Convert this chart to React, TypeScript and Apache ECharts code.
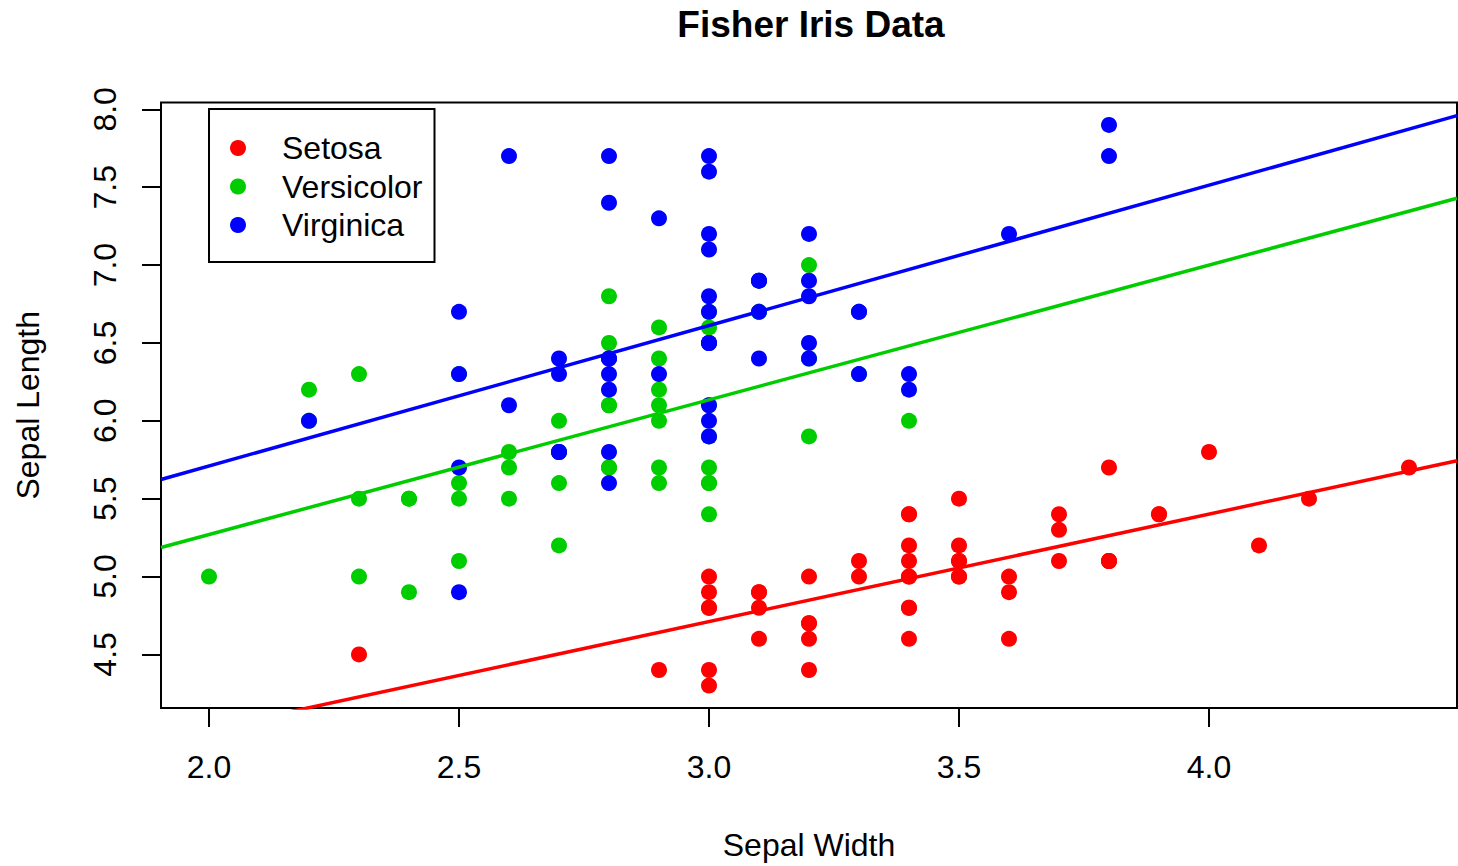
import React, { useEffect, useRef } from "react";
import * as echarts from "echarts";

const speciesNames = ["Setosa", "Versicolor", "Virginica"];
const speciesColors = ["#FF0000", "#00CD00", "#0000FF"];

const setosaWidth = [3.5,3.0,3.2,3.1,3.6,3.9,3.4,3.4,2.9,3.1,3.7,3.4,3.0,3.0,4.0,4.4,3.9,3.5,3.8,3.8,3.4,3.7,3.6,3.3,3.4,3.0,3.4,3.5,3.4,3.2,3.1,3.4,4.1,4.2,3.1,3.2,3.5,3.6,3.0,3.4,3.5,2.3,3.2,3.5,3.8,3.0,3.8,3.2,3.7,3.3];
const setosaLength = [5.1,4.9,4.7,4.6,5.0,5.4,4.6,5.0,4.4,4.9,5.4,4.8,4.8,4.3,5.8,5.7,5.4,5.1,5.7,5.1,5.4,5.1,4.6,5.1,4.8,5.0,5.0,5.2,5.2,4.7,4.8,5.4,5.2,5.5,4.9,5.0,5.5,4.9,4.4,5.1,5.0,4.5,4.4,5.0,5.1,4.8,5.1,4.6,5.3,5.0];
const versicolorWidth = [3.2,3.2,3.1,2.3,2.8,2.8,3.3,2.4,2.9,2.7,2.0,3.0,2.2,2.9,2.9,3.1,3.0,2.7,2.2,2.5,3.2,2.8,2.5,2.8,2.9,3.0,2.8,3.0,2.9,2.6,2.4,2.4,2.7,2.7,3.0,3.4,3.1,2.3,3.0,2.5,2.6,3.0,2.6,2.3,2.7,3.0,2.9,2.9,2.5,2.8];
const versicolorLength = [7.0,6.4,6.9,5.5,6.5,5.7,6.3,4.9,6.6,5.2,5.0,5.9,6.0,6.1,5.6,6.7,5.6,5.8,6.2,5.6,5.9,6.1,6.3,6.1,6.4,6.6,6.8,6.7,6.0,5.7,5.5,5.5,5.8,6.0,5.4,6.0,6.7,6.3,5.6,5.5,5.5,6.1,5.8,5.0,5.6,5.7,5.7,6.2,5.1,5.7];
const virginicaWidth = [3.3,2.7,3.0,2.9,3.0,3.0,2.5,2.9,2.5,3.6,3.2,2.7,3.0,2.5,2.8,3.2,3.0,3.8,2.6,2.2,3.2,2.8,2.8,2.7,3.3,3.2,2.8,3.0,2.8,3.0,2.8,3.8,2.8,2.8,2.6,3.0,3.4,3.1,3.0,3.1,3.1,3.1,2.7,3.2,3.3,3.0,2.5,3.0,3.4,3.0];
const virginicaLength = [6.3,5.8,7.1,6.3,6.5,7.6,4.9,7.3,6.7,7.2,6.5,6.4,6.8,5.7,5.8,6.4,6.5,7.7,7.7,6.0,6.9,5.6,7.7,6.3,6.7,7.2,6.2,6.1,6.4,7.2,7.4,7.9,6.4,6.3,6.1,7.7,6.3,6.4,6.0,6.9,6.7,6.9,5.8,6.8,6.7,6.7,6.3,6.5,6.2,5.9];

const xTicks = [2.0, 2.5, 3.0, 3.5, 4.0];
const yTicks = [4.5, 5.0, 5.5, 6.0, 6.5, 7.0, 7.5, 8.0];

const widths = [setosaWidth, versicolorWidth, virginicaWidth];
const lengths = [setosaLength, versicolorLength, virginicaLength];

const X_MIN = 1.904, X_MAX = 4.496, Y_MIN = 4.156, Y_MAX = 8.044;
const FONT = "'Liberation Sans', Arial, sans-serif";

function fit(xs: number[], ys: number[]) {
  const n = xs.length;
  const mx = xs.reduce((a, b) => a + b, 0) / n;
  const my = ys.reduce((a, b) => a + b, 0) / n;
  let sxy = 0, sxx = 0;
  for (let i = 0; i < n; i++) {
    sxy += (xs[i] - mx) * (ys[i] - my);
    sxx += (xs[i] - mx) ** 2;
  }
  const b = sxy / sxx;
  return { a: my - b * mx, b };
}

export default function App() {
  const ref = useRef<HTMLDivElement>(null);
  useEffect(() => {
    const chart = echarts.init(ref.current!, null, { renderer: "svg" });
    const scatter = speciesNames.map((name, k) => ({
      name,
      type: "scatter",
      symbol: "circle",
      symbolSize: 16,
      itemStyle: { color: speciesColors[k], opacity: 1 },
      data: widths[k].map((w, i) => [w, lengths[k][i]]),
      z: 2,
    }));
    const lines = speciesNames.map((name, k) => {
      const { a, b } = fit(widths[k], lengths[k]);
      return {
        name: name + " fit",
        type: "line",
        symbol: "none",
        clip: true,
        silent: true,
        lineStyle: { color: speciesColors[k], width: 3.5 },
        data: [[X_MIN, a + b * X_MIN], [X_MAX, a + b * X_MAX]],
        z: 3,
      };
    });
    chart.setOption({
      animation: false,
      textStyle: { fontFamily: FONT, color: "#000" },
      title: {
        text: "Fisher Iris Data",
        left: 806,
        textAlign: "center",
        top: 1,
        textStyle: { fontFamily: FONT, fontSize: 37, fontWeight: "bold", color: "#000" },
      },
      legend: {
        data: speciesNames,
        orient: "vertical",
        left: 209,
        top: 109,
        icon: "circle",
        itemWidth: 16,
        itemHeight: 16,
        itemGap: 6.5,
        padding: [23, 12, 21, 21],
        borderColor: "#000",
        borderWidth: 2,
        borderRadius: 0,
        backgroundColor: "#fff",
        textStyle: { fontFamily: FONT, fontSize: 32, color: "#000", lineHeight: 31, padding: [0, 0, 0, 31] },
      },
      grid: {
        left: 161,
        right: 1,
        top: 102.5,
        bottom: 156,
        show: true,
        borderColor: "#000",
        borderWidth: 2,
        backgroundColor: "transparent",
      },
      xAxis: {
        type: "value",
        min: X_MIN,
        max: X_MAX,
        name: "Sepal Width",
        nameLocation: "middle",
        nameGap: 121,
        nameTextStyle: { fontFamily: FONT, fontSize: 32, color: "#000" },
        axisLine: { show: false },
        splitLine: { show: false },
        axisTick: { show: true, inside: false, length: 19, customValues: xTicks, lineStyle: { color: "#000", width: 2 } },
        axisLabel: { customValues: xTicks, margin: 43, fontFamily: FONT, fontSize: 32, color: "#000", formatter: (v: number) => v.toFixed(1) },
      },
      yAxis: {
        type: "value",
        min: Y_MIN,
        max: Y_MAX,
        name: "Sepal Length",
        nameLocation: "middle",
        nameGap: 117,
        nameRotate: 90,
        nameTextStyle: { fontFamily: FONT, fontSize: 32, color: "#000" },
        axisLine: { show: false },
        splitLine: { show: false },
        axisTick: { show: true, inside: false, length: 19, customValues: yTicks, lineStyle: { color: "#000", width: 2 } },
        axisLabel: { customValues: yTicks, rotate: 90, margin: 40, fontFamily: FONT, fontSize: 32, color: "#000", formatter: (v: number) => v.toFixed(1) },
      },
      series: [...scatter, ...lines],
    });
    return () => chart.dispose();
  }, []);
  return <div ref={ref} style={{ position: "absolute", left: 0, top: 0, width: 1458, height: 866, background: "#fff" }} />;
}
